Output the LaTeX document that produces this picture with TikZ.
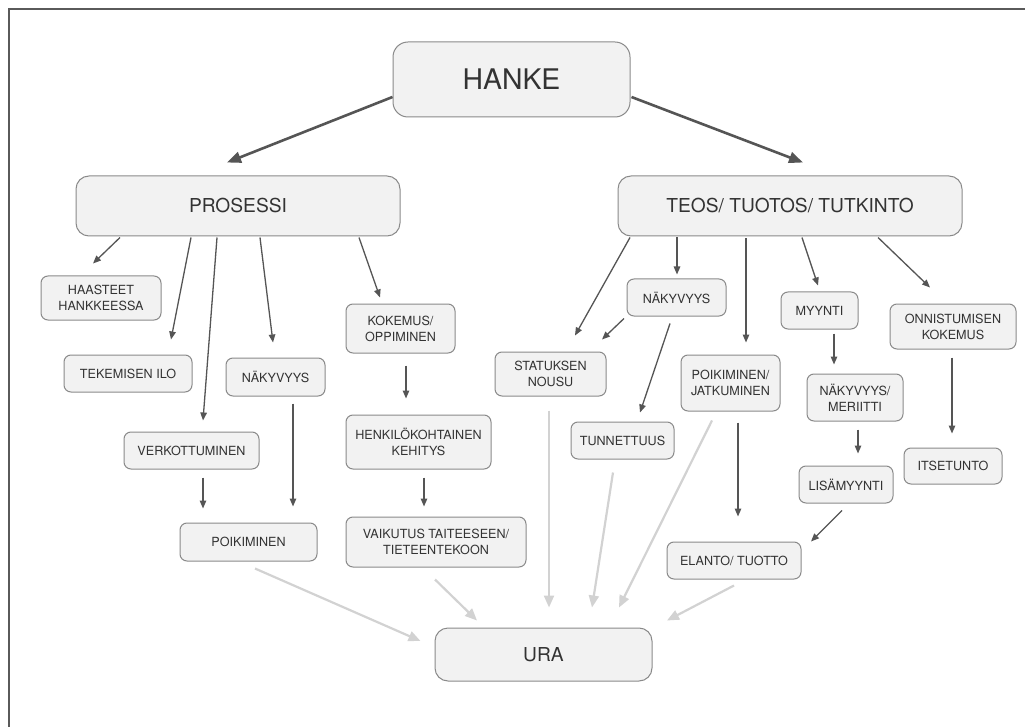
\documentclass[tikz,border=0pt]{standalone}
\usepackage{fontspec}
\setmainfont{TeX Gyre Heros}
\usetikzlibrary{arrows.meta}
\definecolor{txt}{HTML}{333333}
\definecolor{boxfill}{HTML}{F2F2F2}
\definecolor{boxline}{HTML}{8A8A8A}
\definecolor{darr}{HTML}{555555}
\definecolor{garr}{HTML}{D2D2D2}
\definecolor{frame}{HTML}{5A5A5A}
\tikzset{
  cbox/.style={draw=boxline, fill=boxfill, line width=1pt, rounded corners=7pt,
    inner sep=0pt, align=center, text=txt, font=\fontsize{12.6}{16}\selectfont},
  bigbox/.style={cbox, rounded corners=13pt, font=\fontsize{19.2}{22}\selectfont},
  hugebox/.style={cbox, rounded corners=15pt, font=\fontsize{28.4}{32}\selectfont},
  darrow/.style={draw=darr, line width=1.3pt, -{Triangle[length=8pt,width=6.5pt]}},
  harrow/.style={draw=darr, line width=2.6pt, -{Triangle[length=14pt,width=11pt]}},
  garrow/.style={draw=garr, line width=2.2pt, -{Triangle[length=12pt,width=10pt]}},
}
\begin{document}
\begin{tikzpicture}[x=1pt,y=-1pt]
\useasboundingbox (0,0) rectangle (1025,727);
\fill[white] (0,0) rectangle (1025,727);
\draw[frame, line width=2pt] (9,727) -- (9,9) -- (1025,9);

% nodes
\node[hugebox, minimum width=237pt, minimum height=75pt] (hanke) at (511.5,79.5) {HANKE};
\node[bigbox, minimum width=324pt, minimum height=60pt] (prosessi) at (238,206) {PROSESSI};
\node[bigbox, minimum width=344pt, minimum height=60pt] (teos) at (790,206) {TEOS/ TUOTOS/ TUTKINTO};
\node[bigbox, minimum width=217pt, minimum height=53pt] (ura) at (543.5,654.5) {URA};

\node[cbox, minimum width=120pt, minimum height=44pt] (haasteet) at (101,298) {HAASTEET\\HANKKEESSA};
\node[cbox, minimum width=128pt, minimum height=37pt] (tekemisen) at (128,373.5) {TEKEMISEN ILO};
\node[cbox, minimum width=99pt, minimum height=38pt] (nak1) at (275.5,377) {NÄKYVYYS};
\node[cbox, minimum width=109pt, minimum height=49pt] (kokemus) at (400.5,328.5) {KOKEMUS/\\OPPIMINEN};
\node[cbox, minimum width=135pt, minimum height=37pt] (verkot) at (191.5,450.5) {VERKOTTUMINEN};
\node[cbox, minimum width=137pt, minimum height=38pt] (poik1) at (248.5,542) {POIKIMINEN};
\node[cbox, minimum width=145pt, minimum height=54pt] (henk) at (418.5,442) {HENKILÖKOHTAINEN\\KEHITYS};
\node[cbox, minimum width=180pt, minimum height=50pt] (vaik) at (436,542) {VAIKUTUS TAITEESEEN/\\TIETEENTEKOON};

\node[cbox, minimum width=111pt, minimum height=44pt] (status) at (550.5,374) {STATUKSEN\\NOUSU};
\node[cbox, minimum width=99pt, minimum height=37pt] (nak2) at (676.5,297.5) {NÄKYVYYS};
\node[cbox, minimum width=99pt, minimum height=56pt] (poikj) at (730.5,383) {POIKIMINEN/\\JATKUMINEN};
\node[cbox, minimum width=77pt, minimum height=37pt] (myynti) at (819.5,310.5) {MYYNTI};
\node[cbox, minimum width=126pt, minimum height=45pt] (onnis) at (953,326.5) {ONNISTUMISEN\\KOKEMUS};
\node[cbox, minimum width=96pt, minimum height=47pt] (nakmer) at (855,397.5) {NÄKYVYYS/\\MERIITTI};
\node[cbox, minimum width=94pt, minimum height=37pt] (lisa) at (846,484.5) {LISÄMYYNTI};
\node[cbox, minimum width=98pt, minimum height=36pt] (itse) at (953,466) {ITSETUNTO};
\node[cbox, minimum width=134pt, minimum height=37pt] (elanto) at (734,560.5) {ELANTO/ TUOTTO};
\node[cbox, minimum width=103pt, minimum height=37pt] (tunn) at (622.5,440.5) {TUNNETTUUS};

% big arrows
\draw[harrow] ([yshift=-17.5pt]hanke.west) -- ([xshift=-11pt,yshift=13pt]prosessi.north);
\draw[harrow] ([xshift=1pt,yshift=-17.5pt]hanke.east) -- ([xshift=13pt,yshift=13pt]teos.north);

% left branch
\draw[darrow] ([xshift=-118pt,yshift=-1pt]prosessi.south) -- ([xshift=-8pt,yshift=12pt]haasteet.north);
\draw[darrow] ([xshift=-47pt,yshift=-1pt]prosessi.south) -- ([xshift=43pt,yshift=15pt]tekemisen.north);
\draw[darrow] ([xshift=-21pt,yshift=-1pt]prosessi.south) -- ([xshift=11.5pt,yshift=11pt]verkot.north);
\draw[darrow] ([xshift=22pt,yshift=-1pt]prosessi.south) -- ([xshift=-2.5pt,yshift=15pt]nak1.north);
\draw[darrow] ([xshift=121pt,yshift=-1pt]prosessi.south) -- ([xshift=-20.5pt,yshift=6pt]kokemus.north);
\draw[darrow] ([xshift=11.5pt,yshift=-8pt]verkot.south) -- ([xshift=-45.5pt,yshift=14pt]poik1.north);
\draw[darrow] ([xshift=17.5pt,yshift=-7pt]nak1.south) -- ([xshift=44.5pt,yshift=16pt]poik1.north);
\draw[darrow] ([xshift=5.5pt,yshift=-12pt]kokemus.south) -- ([xshift=-12.5pt,yshift=16pt]henk.north);
\draw[darrow] ([xshift=5.5pt,yshift=-8pt]henk.south) -- ([xshift=-12pt,yshift=10pt]vaik.north);

% right branch
\draw[darrow] ([xshift=-160pt,yshift=-1pt]teos.south) -- ([xshift=24.5pt,yshift=16pt]status.north);
\draw[darrow] ([xshift=-113pt,yshift=-1pt]teos.south) -- ([xshift=0.5pt,yshift=4pt]nak2.north);
\draw[darrow] ([xshift=-52.5pt,yshift=-2pt]nak2.south) -- ([xshift=51.5pt,yshift=12pt]status.north);
\draw[darrow] ([xshift=-6.5pt,yshift=-7pt]nak2.south) -- ([xshift=17.5pt,yshift=9pt]tunn.north);
\draw[darrow] ([xshift=-44pt,yshift=-2pt]teos.south) -- ([xshift=15.5pt,yshift=12pt]poikj.north);
\draw[darrow] ([xshift=12pt,yshift=-1pt]teos.south) -- ([xshift=-1.5pt,yshift=6pt]myynti.north);
\draw[darrow] ([xshift=88pt,yshift=-1pt]teos.south) -- ([xshift=-23pt,yshift=16pt]onnis.north);
\draw[darrow] ([xshift=14.5pt,yshift=-4pt]myynti.south) -- ([xshift=-21pt,yshift=9pt]nakmer.north);
\draw[darrow] ([xshift=3pt,yshift=-8pt]nakmer.south) -- ([xshift=12pt,yshift=12pt]lisa.north);
\draw[darrow] ([xshift=-1pt,yshift=-8pt]onnis.south) -- ([xshift=-1pt,yshift=14pt]itse.north);
\draw[darrow] ([xshift=7.5pt,yshift=-11pt]poikj.south) -- ([xshift=4pt,yshift=25pt]elanto.north);
\draw[darrow] ([xshift=-4pt,yshift=-7pt]lisa.south) -- ([xshift=77pt,yshift=0pt]elanto.north);

% grey arrows to URA
\draw[garrow] ([xshift=6.5pt,yshift=-7pt]poik1.south) -- ([xshift=-14pt,yshift=13.5pt]ura.west);
\draw[garrow] ([xshift=-1pt,yshift=-12pt]vaik.south) -- ([xshift=-66.5pt,yshift=7pt]ura.north);
\draw[garrow] ([xshift=-1.5pt,yshift=-14pt]status.south) -- ([xshift=5.5pt,yshift=20pt]ura.north);
\draw[garrow] ([xshift=-9.5pt,yshift=-13pt]tunn.south) -- ([xshift=48.5pt,yshift=20pt]ura.north);
\draw[garrow] ([xshift=-18.5pt,yshift=-9pt]poikj.south) -- ([xshift=75.5pt,yshift=20pt]ura.north);
\draw[garrow] ([yshift=-6pt]elanto.south) -- ([xshift=123.5pt,yshift=7pt]ura.north);
\end{tikzpicture}
\end{document}
